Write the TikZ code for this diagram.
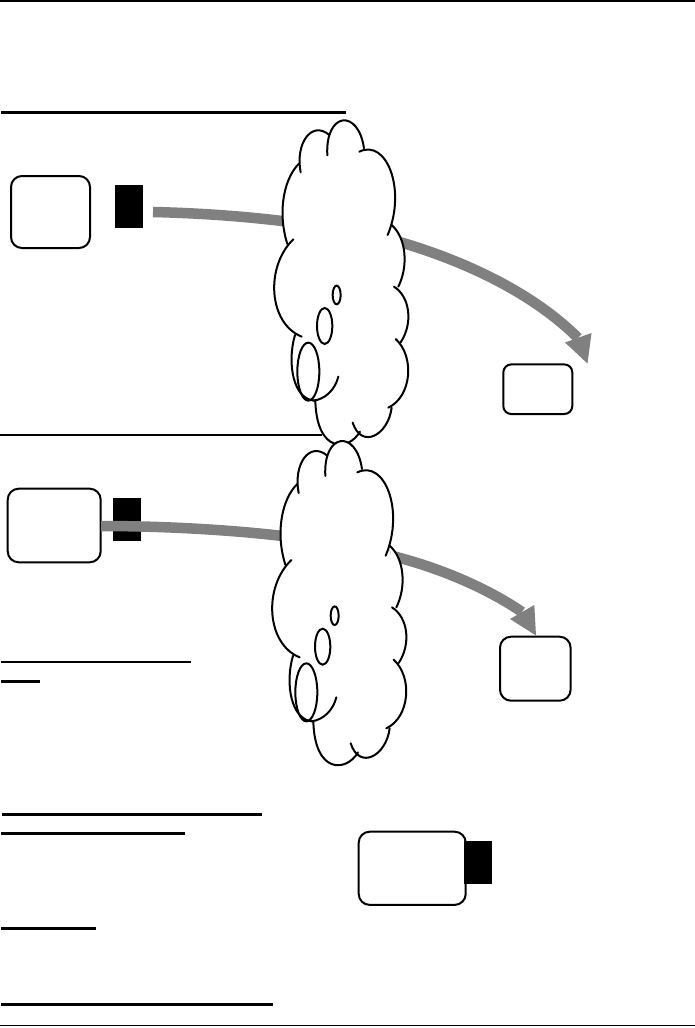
\documentclass[tikz,border=0pt]{standalone}
\definecolor{arrowgray}{HTML}{808080}
\tikzset{
  rulethin/.style={line width=1.8pt,black},
  rulethick/.style={line width=2.8pt,black},
  roundbox/.style={draw=black,fill=white,line width=2pt,rounded corners=11pt,inner sep=0pt,outer sep=0pt},
  blackblock/.style={fill=black,draw=none,inner sep=0pt,outer sep=0pt,minimum width=28pt,minimum height=43pt},
  grayshaft/.style={draw=arrowgray,line width=10.5pt},
  grayhead/.style={fill=arrowgray,draw=none},
  lobefill/.style={fill=white,draw=none},
  lobeline/.style={draw=black,line width=2pt,line cap=round,fill=none},
}
\newcommand{\lobepaths}[1]{%
  \path[#1] (122,187) .. controls (105,100) and (155,30) .. (208,75);
  \path[#1] (202,136) .. controls (195,5) and (295,-5) .. (312,115);
  \path[#1] (298,125) .. controls (380,85) and (440,240) .. (383,375);
  \path[#1] (395,345) .. controls (440,385) and (445,470) .. (415,530);
  \path[#1] (402,530) .. controls (450,560) and (460,640) .. (422,697);
  \path[#1] (407,687) .. controls (465,740) and (455,860) .. (385,893);
  \path[#1] (395,893) .. controls (385,975) and (305,1020) .. (278,938);
  \path[#1] (300,965) .. controls (265,1025) and (170,1030) .. (166,872);
  \path[#1] (105,675) .. controls (80,760) and (100,870) .. (165,872);
  \path[#1] (125,680) .. controls (25,640) and (15,470) .. (100,388);
  \path[#1] (82,402) .. controls (50,300) and (75,200) .. (118,160);
}
\newcommand{\cloudshape}{%
  \lobepaths{lobefill}
  \fill[white] (125,120) -- (205,90) -- (300,122) -- (385,180) -- (395,280) -- (390,345) -- (420,440) -- (410,530) -- (435,620) -- (420,695) -- (435,780) -- (385,890) -- (340,960) -- (295,965) -- (215,975) -- (170,880) -- (110,680) -- (65,550) -- (85,400) -- (75,280) -- (100,190) -- cycle;
  \lobepaths{lobeline}
  \draw[lobeline] (160,872) .. controls (195,868) and (225,840) .. (235,800);
  \draw[lobeline] (145,785) ellipse [x radius=33,y radius=87];
  \draw[lobeline] (194,648) ellipse [x radius=23,y radius=54];
  \draw[lobeline] (230,555) ellipse [x radius=12,y radius=28];
}
\begin{document}
\begin{tikzpicture}[x=1pt,y=-1pt]
\useasboundingbox[fill=white] (0,0) rectangle (695,1028);
% rules
\coordinate (r0a) at (0,1);      \coordinate (r0b) at (695,1);
\coordinate (r1a) at (1,112.5);  \coordinate (r1b) at (346,112.5);
\coordinate (r2a) at (0,435);    \coordinate (r2b) at (322,435);
\coordinate (r3a) at (1,662);    \coordinate (r3b) at (191,662);
\coordinate (r4a) at (1,681.3);  \coordinate (r4b) at (40,681.3);
\coordinate (r5a) at (2,814.3);  \coordinate (r5b) at (262,814.3);
\coordinate (r6a) at (1,833.3);  \coordinate (r6b) at (185,833.3);
\coordinate (r7a) at (1,928.3);  \coordinate (r7b) at (96,928.3);
\coordinate (r8a) at (1,1004.3); \coordinate (r8b) at (273,1004.3);
\coordinate (r9a) at (0,1025.5); \coordinate (r9b) at (695,1025.5);
\draw[rulethin] (r0a) -- (r0b);
\draw[rulethick] (r1a) -- (r1b);
\draw[rulethin] (r2a) -- (r2b);
\draw[rulethin] (r3a) -- (r3b);
\draw[rulethick] (r4a) -- (r4b);
\draw[rulethick] (r5a) -- (r5b);
\draw[rulethick] (r6a) -- (r6b);
\draw[rulethick] (r7a) -- (r7b);
\draw[rulethick] (r8a) -- (r8b);
\draw[rulethin] (r9a) -- (r9b);
% boxes
\node[roundbox,minimum width=79pt,minimum height=72pt] (boxA) at (50.5,212) {};
\node[blackblock] (blockA) at (129,206.5) {};
\node[roundbox,minimum width=69pt,minimum height=49.6pt,rounded corners=8pt] (boxB) at (537.8,389.2) {};
\node[roundbox,minimum width=93pt,minimum height=73.6pt] (boxC) at (54.2,525.5) {};
\node[blackblock] (blockC) at (127,519.5) {};
\node[roundbox,minimum width=70.6pt,minimum height=64pt] (boxD) at (535.3,668.7) {};
\node[roundbox,minimum width=107pt,minimum height=73.2pt] (boxE) at (412.2,868.3) {};
\node[blackblock] (blockE) at (478,862.5) {};
% gray arrows
\coordinate (g1s) at (153,212);
\coordinate (g1m) at (403,243);
\coordinate (g1e) at (578,338);
\coordinate (h1a) at (565,342.5);
\coordinate (h1b) at (591.5,333);
\coordinate (h1t) at (587.5,363.5);
\draw[grayshaft] (g1s) .. controls (240,214) and (330,224) .. (g1m) .. controls (470,263) and (535,295) .. (g1e);
\fill[grayhead] (h1a) -- (h1b) -- (h1t) -- cycle;
\coordinate (g2s) at (101,526);
\coordinate (g2m) at (400,558);
\coordinate (g2e) at (522,612);
\coordinate (h2a) at (510,619);
\coordinate (h2b) at (534.3,605);
\coordinate (h2t) at (536,635.5);
\draw[grayshaft] (g2s) .. controls (190,526) and (320,534) .. (g2m) .. controls (445,570) and (490,590) .. (g2e);
\fill[grayhead] (h2a) -- (h2b) -- (h2t) -- cycle;
% clouds
\begin{scope}[shift={(260,110)},x=0.3333pt,y=-0.3333pt]
\cloudshape
\end{scope}
\begin{scope}[shift={(258,430.7)},x=0.3333pt,y=-0.3333pt]
\cloudshape
\end{scope}
\end{tikzpicture}
\end{document}
